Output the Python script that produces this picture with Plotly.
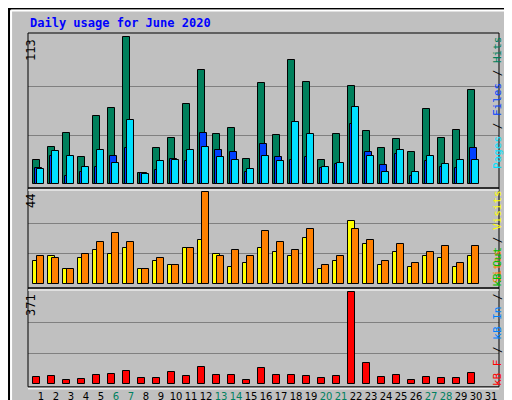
import plotly.graph_objects as go

days = list(range(1, 32))
hits = [18.4, 28.5, 39, 21, 52, 58.5, 113, 8.5, 27.7, 35.4, 61.5, 87.7, 38.5, 43, 19, 78,
        37.7, 95.4, 78.5, 18.5, 38.5, 75.4, 40.8, 27.7, 34.6, 24.6, 57.7, 35.4, 41.5, 72.3, None]
files = [12.3, 21.5, 6, 9, 13, 21.5, 27.7, 8.5, 10.8, 19, 17.7, 39, 26, 24.6, 9, 30.8,
         20.8, 18.5, 20.8, 12.3, 15.4, 46, 24.6, 14.6, 23, 6, 17.7, 13, 12.3, 27.7, None]
pages = [11.5, 25.4, 21.5, 13, 26, 16, 49, 7.7, 17.7, 18.5, 26, 28.5, 20.8, 18.5, 11.5, 21.5,
         17.7, 47.7, 38.5, 13, 16, 59, 21.5, 9, 26, 9, 21.5, 15.4, 18.5, 18.5, None]
visits = [11, 13.4, 7.2, 12.4, 16.3, 14.3, 17.2, 7.2, 11, 9.1, 17.2, 21, 14.3, 8.1, 10, 17.2,
          15.3, 13.4, 22, 7.2, 11, 30.1, 19.1, 9.1, 15.3, 8.1, 13.4, 12.7, 8.1, 13.4, None]
sites = [13.4, 12.7, 7.2, 14.3, 20, 24.4, 20, 7.2, 12.7, 9.1, 17.2, 44, 13.4, 16.3, 13.4, 25.3,
         20, 16.3, 26.3, 9.1, 13.4, 26.3, 21, 11, 19.1, 10, 15.3, 18.2, 10, 18.2, None]
kbytes = [26, 30, 14, 18, 34, 42, 54, 22, 22, 50, 30, 70, 34, 34, 14, 66,
          34, 34, 30, 22, 30, 371, 83, 26, 34, 14, 26, 22, 22, 46, None]
weekends = {6, 7, 13, 14, 20, 21, 27, 28}

fig = go.Figure()
line = dict(color="black", width=1)


def bars(y, color, offset, axis):
    fig.add_bar(x=days, y=y, marker=dict(color=color, line=line), width=0.47,
                offset=offset, xaxis="x", yaxis=axis, hoverinfo="x+y")


bars(hits, "#00805c", -0.51, "y")
bars(files, "#0040ff", -0.38, "y")
bars(pages, "#00e0ff", -0.25, "y")
bars(visits, "#ffff00", -0.51, "y2")
bars(sites, "#ff8000", -0.25, "y2")
bars(kbytes, "#ff0000", -0.51, "y3")

ticktext = [f'<span style="color:#008060">{d}</span>' if d in weekends else str(d) for d in days]


def yax(domain, top, rng):
    return dict(domain=domain, range=rng, tickvals=[top / 3, 2 * top / 3], showticklabels=False,
                gridcolor="#808080", gridwidth=1, zeroline=False, ticks="", fixedrange=True)


fig.update_layout(
    width=512, height=400, margin=dict(l=0, r=0, t=0, b=0),
    paper_bgcolor="#C0C0C0", plot_bgcolor="#C0C0C0",
    barmode="overlay", showlegend=False, bargap=0,
    font=dict(family="DejaVu Sans Mono", size=11, color="black"),
    xaxis=dict(domain=[20 / 512, 491 / 512], range=[0.133, 31.53], tickvals=days,
               ticktext=ticktext, showgrid=False, zeroline=False, ticks="",
               tickangle=0, tickfont=dict(family="DejaVu Sans", size=10),
               ticklabelstandoff=2, anchor="y3", fixedrange=True),
    yaxis=yax([0.55, 0.9375], 113, [-3.1, 116.3]),
    yaxis2=yax([0.30, 0.55], 44, [-1.8, 46.1]),
    yaxis3=yax([0.053, 0.30], 371, [-12, 389]),
)

shapes = [
    dict(type="rect", xref="paper", yref="paper", x0=0.002, y0=0.002, x1=0.998, y1=0.998,
         line=dict(color="black", width=2)),
    dict(type="line", xref="paper", yref="paper", x0=0.006, y0=0.994, x1=0.985, y1=0.994,
         line=dict(color="white", width=2)),
    dict(type="line", xref="paper", yref="paper", x0=0.006, y0=0.994, x1=0.006, y1=0.01,
         line=dict(color="white", width=2)),
    dict(type="line", xref="paper", yref="paper", x0=0.99, y0=0.99, x1=0.99, y1=0.006,
         line=dict(color="#808080", width=4)),
    dict(type="line", xref="paper", yref="paper", x0=0.01, y0=0.006, x1=0.99, y1=0.006,
         line=dict(color="#808080", width=4)),
]
for y0, y1 in [(0.55, 0.9375), (0.30, 0.55), (0.053, 0.30)]:
    shapes.append(dict(type="rect", xref="paper", yref="paper", x0=20 / 512, x1=491 / 512,
                       y0=y0, y1=y1, line=dict(color="black", width=1)))
for y in [0.545, 0.295, 0.048]:
    shapes.append(dict(type="line", xref="paper", yref="paper", x0=20 / 512, x1=491 / 512,
                       y0=y, y1=y, line=dict(color="white", width=1)))
fig.update_layout(shapes=shapes)

ann = [
    dict(x=20 / 512, y=0.962, text="<b>Daily usage for June 2020</b>", xanchor="left",
         yanchor="middle", font=dict(color="#0000ff", size=12)),
    dict(x=14 / 512, y=0.9275, text="113", textangle=-90, yanchor="top", font=dict(size=12)),
    dict(x=14 / 512, y=0.54, text="44", textangle=-90, yanchor="top", font=dict(size=12)),
    dict(x=14 / 512, y=0.29, text="371", textangle=-90, yanchor="top", font=dict(size=12)),
    dict(x=498 / 512, y=0.935, yanchor="top", textangle=-90,
         text='<span style="color:#00e0ff">Pages</span> / <span style="color:#0040ff">Files</span>'
              ' / <span style="color:#00805c">Hits</span>'),
    dict(x=498 / 512, y=0.55, yanchor="top", textangle=-90,
         text='<span style="color:#ff8000">Sites</span> / <span style="color:#ffff00">Visits</span>'),
    dict(x=498 / 512, y=0.05, yanchor="bottom", textangle=-90,
         text='<span style="color:#ff0000">kB F</span> / <span style="color:#0080ff">kB In</span>'
              ' / <span style="color:#00c000">kB Out</span>'),
]
for a in ann:
    a.update(xref="paper", yref="paper", showarrow=False)
fig.update_layout(annotations=ann)

fig.write_html("out.html")
